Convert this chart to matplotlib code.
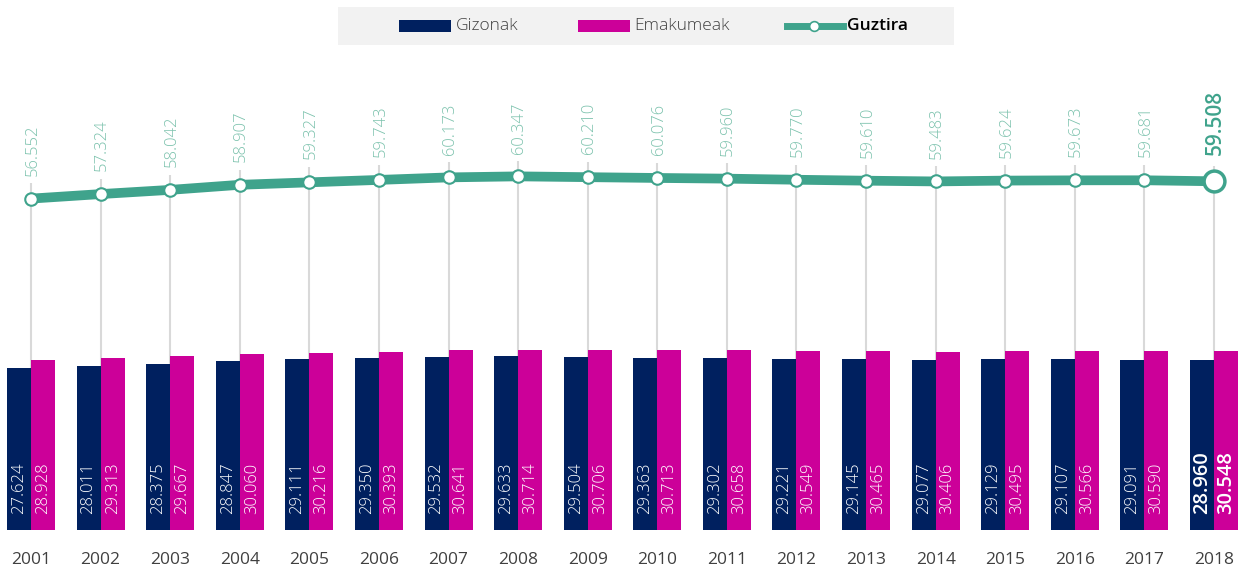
import matplotlib.pyplot as plt
from matplotlib.patches import Rectangle
from matplotlib.lines import Line2D

plt.rcParams['font.family'] = ['Open Sans', 'DejaVu Sans']

urteak = ['2001', '2002', '2003', '2004', '2005', '2006', '2007', '2008', '2009',
          '2010', '2011', '2012', '2013', '2014', '2015', '2016', '2017', '2018']
gizonak = [27624, 28011, 28375, 28847, 29111, 29350, 29532, 29633, 29504,
           29363, 29302, 29221, 29145, 29077, 29129, 29107, 29091, 28960]
emakumeak = [28928, 29313, 29667, 30060, 30216, 30393, 30641, 30714, 30706,
             30713, 30658, 30549, 30465, 30406, 30495, 30566, 30590, 30548]
guztira = [56552, 57324, 58042, 58907, 59327, 59743, 60173, 60347, 60210,
           60076, 59960, 59770, 59610, 59483, 59624, 59673, 59681, 59508]

c_giz = '#00205f'
c_ema = '#cc0099'
c_tot = '#3fa38c'
c_tot_txt = '#7cc2ad'


def fmt(v):
    return '{:,}'.format(v).replace(',', '.')


fig = plt.figure(figsize=(12.5, 5.74), dpi=100)
ax = fig.add_axes([0, 0, 1, 1])
ax.axis('off')

k = 0.00586  # pixel per unit
ax.set_xlim(-0.445, 17.517)
ax.set_ylim(-44 / k, 530 / k)

x = list(range(len(urteak)))
w = 0.345
n = len(urteak) - 1

# lerro grisak
ax.vlines(x, 0, [v + 2600 for v in guztira], color='#d9d9d9', lw=1.5, zorder=1)

ax.bar([i - w / 2 for i in x], gizonak, width=w, color=c_giz, zorder=2)
ax.bar([i + w / 2 for i in x], emakumeak, width=w, color=c_ema, zorder=2)

ax.plot(x, guztira, color=c_tot, lw=7, zorder=3, solid_capstyle='butt')
ax.plot(x[:-1], guztira[:-1], 'o', ms=9, mfc='white', mec=c_tot, mew=1.5, zorder=4)
ax.plot(x[-1], guztira[-1], 'o', ms=15, mfc='white', mec=c_tot, mew=2.5, zorder=4)

for i in x:
    last = i == n
    fs = 14.5 if last else 12
    fw = 'semibold' if last else 'light'
    ax.text(i - w / 2, 2730, fmt(gizonak[i]), rotation=90, ha='center', va='bottom',
            color='white', fontsize=fs, fontweight=fw, zorder=5)
    ax.text(i + w / 2, 2730, fmt(emakumeak[i]), rotation=90, ha='center', va='bottom',
            color='white', fontsize=fs, fontweight=fw, zorder=5)
    ax.text(i + 0.02, guztira[i] + (4400 if last else 3900), fmt(guztira[i]), rotation=90,
            ha='center', va='bottom', color=c_tot if last else c_tot_txt,
            fontsize=15 if last else 12, fontweight=fw)
    ax.text(i, -5100, urteak[i], ha='center', va='center', fontsize=12.5, color='#404040')

# legenda
W, H = 1250, 574
fig.patches.append(Rectangle((338 / W, 1 - 45 / H), (954 - 338) / W, 38 / H,
                             transform=fig.transFigure, facecolor='#f2f2f2', edgecolor='none'))
fig.patches.append(Rectangle((399 / W, 1 - 32 / H), 52 / W, 12 / H,
                             transform=fig.transFigure, facecolor=c_giz, edgecolor='none'))
fig.text(456 / W, 1 - 26 / H, 'Gizonak', ha='left', va='center', fontsize=12.5,
         color='#404040', fontweight='light')
fig.patches.append(Rectangle((578 / W, 1 - 32 / H), 52 / W, 12 / H,
                             transform=fig.transFigure, facecolor=c_ema, edgecolor='none'))
fig.text(634 / W, 1 - 26 / H, 'Emakumeak', ha='left', va='center', fontsize=12.5,
         color='#404040', fontweight='light')
fig.lines.append(Line2D([787 / W, 843 / W], [1 - 26 / H, 1 - 26 / H], transform=fig.transFigure,
                        color=c_tot, lw=5))
fig.lines.append(Line2D([814 / W], [1 - 26 / H], transform=fig.transFigure, marker='o', ms=7,
                        mfc='white', mec=c_tot, mew=1.2))
fig.text(847 / W, 1 - 26 / H, 'Guztira', ha='left', va='center', fontsize=12.5,
         color='black', fontweight='semibold')

fig.savefig('out.png', dpi=100)
